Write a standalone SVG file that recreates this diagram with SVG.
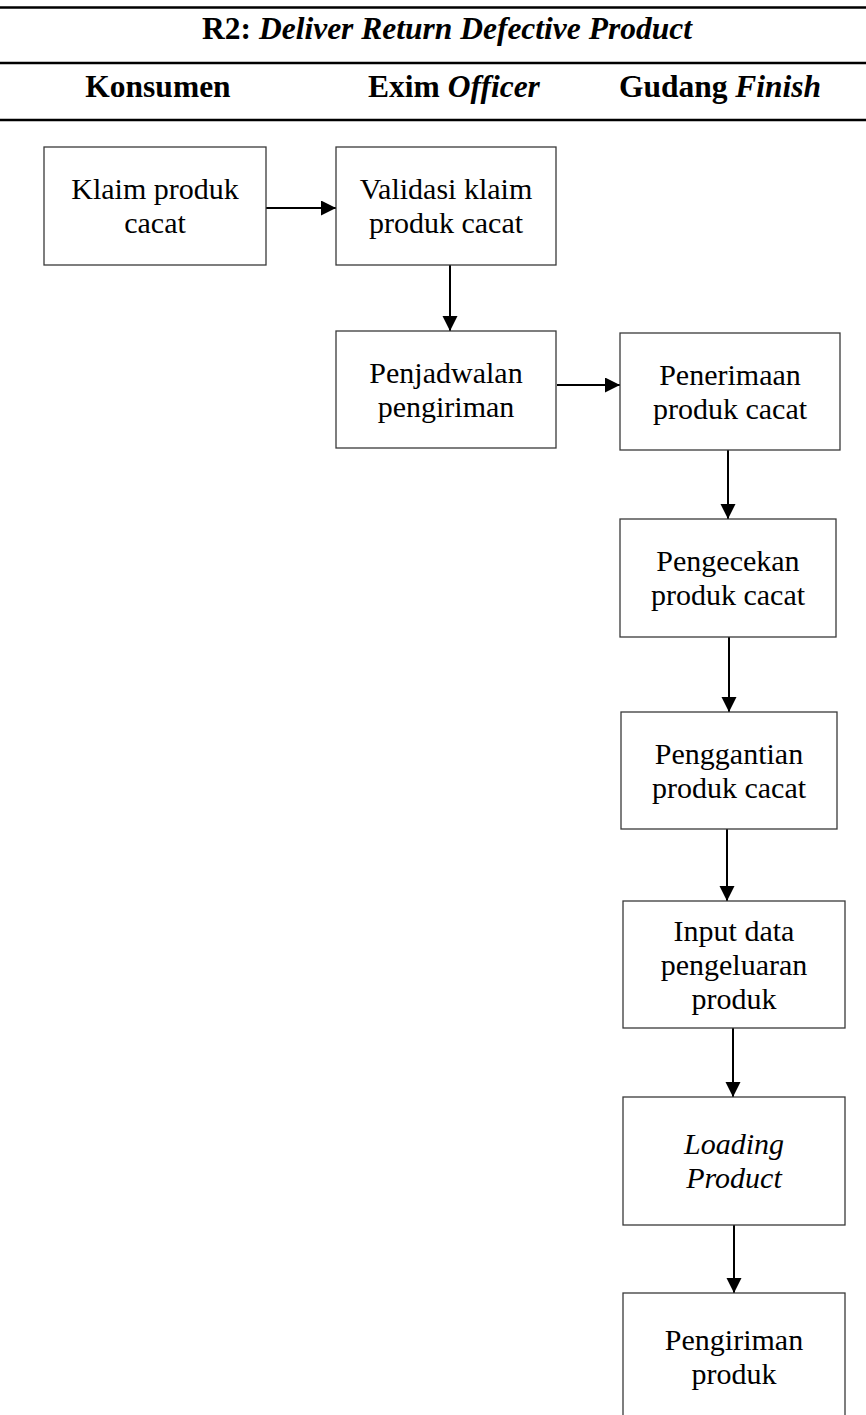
<svg xmlns="http://www.w3.org/2000/svg" width="866" height="1415" viewBox="0 0 866 1415">
<style>
.hl{stroke:#000;stroke-width:2.6}
.box{fill:#fff;stroke:#3a3a3a;stroke-width:1.3}
.t{font-family:"Liberation Serif","Times New Roman",serif;font-size:30px;fill:#000;text-anchor:middle}
.h{font-family:"Liberation Serif","Times New Roman",serif;font-size:31.5px;font-weight:bold;fill:#000;text-anchor:middle}
.c{stroke:#000;stroke-width:2;fill:none;marker-end:url(#ah)}
</style>
<defs>
<marker id="ah" markerWidth="8" markerHeight="8" refX="7.5" refY="3.75" orient="auto" markerUnits="strokeWidth">
<path d="M0,0 L7.5,3.75 L0,7.5 Z" fill="#000"/>
</marker>
</defs>
<rect width="866" height="1415" fill="#fff"/>
<g id="header">
<line class="hl" x1="0" y1="7.5" x2="866" y2="7.5"/>
<line class="hl" x1="0" y1="63" x2="866" y2="63"/>
<line class="hl" x1="0" y1="120" x2="866" y2="120"/>
<text class="h" x="447" y="38.5">R2: <tspan font-style="italic">Deliver Return Defective Product</tspan></text>
<text class="h" x="158" y="97">Konsumen</text>
<text class="h" x="454" y="97">Exim <tspan font-style="italic">Officer</tspan></text>
<text class="h" x="720" y="97">Gudang <tspan font-style="italic">Finish</tspan></text>
</g>
<g id="connectors">
<line class="c" x1="266" y1="208" x2="336" y2="208"/>
<line class="c" x1="450" y1="265" x2="450" y2="331"/>
<line class="c" x1="557" y1="385" x2="620" y2="385"/>
<line class="c" x1="728" y1="450" x2="728" y2="519"/>
<line class="c" x1="729" y1="637" x2="729" y2="712"/>
<line class="c" x1="727" y1="829" x2="727" y2="901"/>
<line class="c" x1="733" y1="1028" x2="733" y2="1097"/>
<line class="c" x1="734" y1="1225" x2="734" y2="1293"/>
</g>
<g id="n1"><rect class="box" x="44" y="147" width="222" height="118"/><text class="t" x="155" y="199">Klaim produk</text><text class="t" x="155" y="233">cacat</text></g>
<g id="n2"><rect class="box" x="336" y="147" width="220" height="118"/><text class="t" x="446" y="199">Validasi klaim</text><text class="t" x="446" y="233">produk cacat</text></g>
<g id="n3"><rect class="box" x="336" y="331" width="220" height="117"/><text class="t" x="446" y="382.5">Penjadwalan</text><text class="t" x="446" y="416.5">pengiriman</text></g>
<g id="n4"><rect class="box" x="620" y="333" width="220" height="117"/><text class="t" x="730" y="384.5">Penerimaan</text><text class="t" x="730" y="418.5">produk cacat</text></g>
<g id="n5"><rect class="box" x="620" y="519" width="216" height="118"/><text class="t" x="728" y="571">Pengecekan</text><text class="t" x="728" y="605">produk cacat</text></g>
<g id="n6"><rect class="box" x="621" y="712" width="216" height="117"/><text class="t" x="729" y="763.5">Penggantian</text><text class="t" x="729" y="797.5">produk cacat</text></g>
<g id="n7"><rect class="box" x="623" y="901" width="222" height="127"/><text class="t" x="734" y="940.5">Input data</text><text class="t" x="734" y="974.5">pengeluaran</text><text class="t" x="734" y="1008.5">produk</text></g>
<g id="n8"><rect class="box" x="623" y="1097" width="222" height="128"/><text class="t" x="734" y="1154" font-style="italic">Loading</text><text class="t" x="734" y="1188" font-style="italic">Product</text></g>
<g id="n9"><rect class="box" x="623" y="1293" width="222" height="140"/><text class="t" x="734" y="1350">Pengiriman</text><text class="t" x="734" y="1384">produk</text></g>
</svg>
